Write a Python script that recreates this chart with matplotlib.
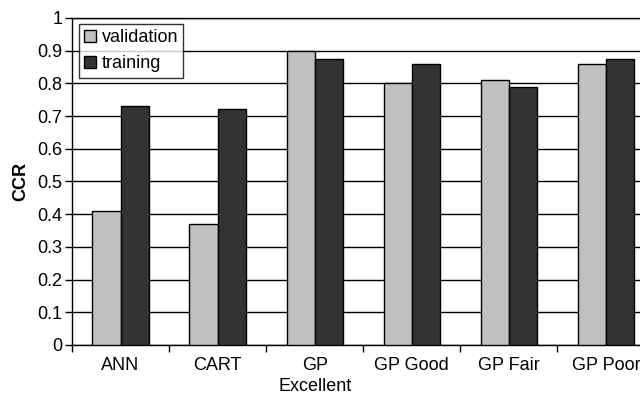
import numpy as np
import matplotlib.pyplot as plt

plt.rcParams['font.family'] = ['Liberation Sans', 'DejaVu Sans']

# data
categories = ['ANN', 'CART', 'GP\nExcellent', 'GP Good', 'GP Fair', 'GP Poor']
validation = [0.41, 0.37, 0.90, 0.80, 0.81, 0.86]
training = [0.73, 0.72, 0.875, 0.86, 0.79, 0.875]
y_ticks = [0, 0.1, 0.2, 0.3, 0.4, 0.5, 0.6, 0.7, 0.8, 0.9, 1]
y_tick_labels = ['0', '0.1', '0.2', '0.3', '0.4', '0.5', '0.6', '0.7', '0.8', '0.9', '1']

fig = plt.figure(figsize=(6.4, 3.97), dpi=100)
# plot area runs past the right edge, as in the reference
ax = fig.add_axes([0.1125, 0.131, 0.91, 0.824])

x = np.arange(len(categories))
w = 0.29
ax.bar(x - w / 2, validation, w, color='#c0c0c0', edgecolor='black',
       linewidth=1.0, label='validation', zorder=3)
ax.bar(x + w / 2, training, w, color='#333333', edgecolor='black',
       linewidth=1.0, label='training', zorder=3)

fs = 13
ax.set_xlim(-0.5, len(categories) - 0.5)
ax.set_ylim(0, 1)
ax.set_yticks(y_ticks)
ax.set_yticklabels(y_tick_labels, fontsize=fs)
ax.set_xticks(x)
ax.set_xticklabels(categories, fontsize=fs, linespacing=1.3)
ax.set_xticks(np.arange(len(categories) + 1) - 0.5, minor=True)
ax.tick_params(axis='x', which='major', length=0, pad=9)
ax.tick_params(axis='x', which='minor', length=5, width=1)
ax.tick_params(axis='y', length=5, width=1, pad=2)

ax.grid(axis='y', color='black', linewidth=1.0, zorder=0)
for s in ax.spines.values():
    s.set_linewidth(1.0)
ax.spines['right'].set_visible(False)

ax.set_ylabel('CCR', fontsize=fs, fontweight='bold', labelpad=6)

leg = ax.legend(loc='upper left', bbox_to_anchor=(0.012, 0.982), fontsize=fs,
                frameon=True, fancybox=False, edgecolor='black',
                handlelength=0.65, handleheight=0.65, handletextpad=0.3,
                borderpad=0.3, labelspacing=0.5, borderaxespad=0)
leg.get_frame().set_linewidth(1.0)
leg.set_zorder(5)

fig.savefig('out.png', dpi=100)
